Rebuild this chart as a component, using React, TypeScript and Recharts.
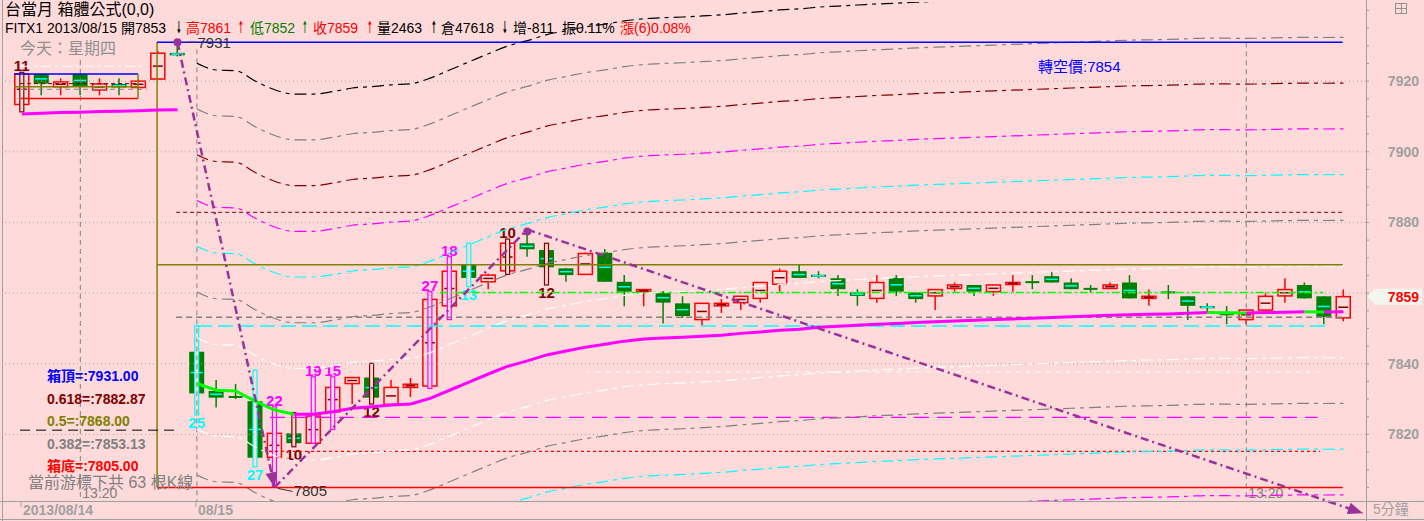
import React from 'react';
import { ComposedChart, Bar, Line, XAxis, YAxis, ReferenceLine, ReferenceDot } from 'recharts';

const BG = '#FFDADA';
const FONT = '"Liberation Sans", "Noto Sans CJK TC", sans-serif';
const RED = '#FF0000';
const DARK_RED = '#800000';
const GREEN = '#008000';
const LIME = '#00FF00';
const CYAN = '#00FFFF';
const MAGENTA = '#FF00FF';
const OLIVE = '#808000';
const GRAY = '#808080';
const AXIS_GRAY = '#A0A0A0';
const PURPLE = '#993399';

// candles, index 0 = first 5-minute bar of 08/15, negatives = previous session
const FIRST_INDEX = -9;
const OPENS = [
  7913.4, 7922, 7918.4, 7922, 7917.5, 7919.2, 7918.2, 7920.6, 7928,
  7843.4, 7832.3, 7830.6, 7829.4, 7813.5, 7820.3, 7817.5, 7826.4, 7834.4, 7836.1,
  7828.5, 7833.3, 7833.7, 7856.4, 7868.1, 7863.2, 7866.3, 7874.1, 7872.2, 7867,
  7865.3, 7871.4, 7863.2, 7860.4, 7860.1, 7857.1, 7852.5, 7856.4, 7857.3, 7858.5,
  7862.5, 7866.2, 7865.2, 7864.2, 7860.2, 7858.5, 7864.3, 7860.2, 7859.2, 7861.3,
  7862.3, 7860.4, 7862.5, 7863.1, 7864.8, 7863, 7861.2, 7861.3, 7863, 7858.5,
  7860.2, 7859.1, 7856.3, 7854, 7852.5, 7855.2, 7859.2, 7862.3, 7859.1, 7853,
];
const HIGHS = [
  7922.5, 7922, 7920.8, 7922, 7920.8, 7920.8, 7920.5, 7928.5, 7931,
  7850.7, 7835.4, 7834.3, 7838.2, 7827.8, 7826.2, 7836.3, 7836.3, 7836.1, 7840.1,
  7835.4, 7836, 7860.4, 7870.3, 7874.1, 7865.5, 7875.3, 7878, 7874.1, 7867,
  7871.5, 7872.5, 7865.1, 7861, 7860.6, 7859.1, 7857.1, 7858.3, 7859.1, 7863,
  7867, 7868, 7866.2, 7865.1, 7861.1, 7865.1, 7865.1, 7860.2, 7861, 7863,
  7862.3, 7862.3, 7865.1, 7865.1, 7865.9, 7864.2, 7862.3, 7863, 7865.1, 7861,
  7862.3, 7859.1, 7857.1, 7856.3, 7855.2, 7860.2, 7864.2, 7863, 7859.1, 7861,
];
const LOWS = [
  7911.3, 7916, 7916, 7916, 7916, 7916, 7918, 7920.4, 7927,
  7825.5, 7827.6, 7830, 7810.8, 7805, 7816.5, 7817.5, 7821.4, 7828.6, 7828.6,
  7828.5, 7830.6, 7833, 7852.5, 7861.8, 7861.1, 7865.3, 7870.3, 7862.3, 7863.2,
  7865.3, 7863.2, 7856.3, 7856.3, 7851.4, 7853, 7851, 7854.4, 7855.2, 7857.3,
  7860.4, 7864.3, 7864.2, 7859.2, 7856.4, 7857.3, 7859.2, 7857.3, 7855.2, 7860.4,
  7859.2, 7859.2, 7860.4, 7861.1, 7863, 7861.1, 7860.2, 7861.3, 7858.5, 7856.4,
  7858.3, 7852.4, 7854.5, 7851.2, 7851.2, 7855.2, 7857.3, 7858.5, 7851.2, 7852,
];
const CLOSES = [
  7922, 7919.3, 7919.8, 7918.4, 7919.2, 7918.2, 7920, 7927.9, 7927.3,
  7831.6, 7830.4, 7830.2, 7813.4, 7820.3, 7817.5, 7825.2, 7833.3, 7836.1, 7830.4,
  7833.3, 7834.2, 7858.2, 7866.2, 7864.3, 7865.1, 7874.1, 7872.4, 7867.3, 7865.1,
  7871.2, 7863.2, 7860.4, 7861, 7857.3, 7853.5, 7857.1, 7857.1, 7859.1, 7863,
  7866.2, 7864.3, 7864.6, 7861.1, 7859.2, 7863, 7860.4, 7858.3, 7861, 7862.3,
  7860.4, 7862.3, 7863, 7863, 7863, 7861.1, 7861, 7862.3, 7858.5, 7859.1,
  7860, 7856.4, 7855.7, 7853.8, 7855.2, 7859.1, 7861, 7858.5, 7853.3, 7859,
];

// average line: previous session (index -9..-1) and today (index 0..59)
const MA_PREV = [7910.7, 7910.9, 7911.1, 7911.2, 7911.4, 7911.5, 7911.6, 7911.8, 7911.9];
const MA_DAY = [
  7834.4, 7832.5, 7832.3, 7829.4, 7826.9, 7825.7, 7825.7, 7826.4, 7827.4, 7827.8,
  7828.3, 7828.6, 7830.2, 7832.5, 7834.8, 7837.1, 7839.3, 7840.8, 7842.5, 7843.6,
  7844.7, 7845.5, 7846.4, 7847.0, 7847.3, 7847.5, 7847.8, 7848.1, 7848.6, 7849.0,
  7849.5, 7849.8, 7850.3, 7850.6, 7850.9, 7851.2, 7851.4, 7851.7, 7851.9, 7852.1,
  7852.3, 7852.5, 7852.7, 7852.9, 7853.1, 7853.3, 7853.5, 7853.7, 7853.9, 7854.0,
  7854.1, 7854.3, 7854.5, 7854.45, 7854.4, 7854.5, 7854.6, 7854.7, 7854.65, 7854.7,
];
// envelope lines: average +- level * step
const BAND_STEP = 12.95;
const BAND_LEVELS = [7, 6, 5, 4, 3, 2, 1, -1, -2, -3, -4];
const BAND_COLORS: Record<string, string> = {
  '7': '#000000', '6': GRAY, '5': DARK_RED, '4': MAGENTA, '3': CYAN, '2': GRAY,
  '1': '#FFFFFF', '-1': '#FFFFFF', '-2': GRAY, '-3': CYAN, '-4': MAGENTA,
};

// counted bars: [index, label, kind]
const MARKS: [number, string, string][] = [
  [-9, '11', 'redUp'], [0, '25', 'cyanDown'], [3, '27', 'cyanDown'], [4, '22', 'magentaUp'],
  [5, '10', 'redDown'], [6, '19', 'magentaUp'], [7, '15', 'magentaUp'], [9, '12', 'redDown'],
  [12, '27', 'magentaUp'], [13, '18', 'magentaUp'], [14, '13', 'cyanDown'], [16, '10', 'redUp'],
  [18, '12', 'redDown'],
];

// box formula levels
const BOX_TOP = 7931;
const BOX_618 = 7882.87;
const BOX_HALF = 7868;
const BOX_382 = 7853.13;
const BOX_BOTTOM = 7805;
const PREV_BOX = [7922, 7919.3, 7918.4, 7917.7, 7915.1, 7924.2];
const STOP_LEVELS = [7850.7, 7860.2, 7824.8, 7815.2, 7837.7, 7821.2];
const TURN_PRICE = 7854;

// zigzag swing points
const ZIG_X = [-1, 4, 17, 60];
const ZIG_Y = [7931, 7805, 7878, 7797.7];

const GRID_LEVELS = [7820, 7840, 7860, 7880, 7900, 7920];
const DATE_TICKS = [-9, 0];
const DATE_LABELS = ['2013/08/14', '08/15'];
const TIME_LINES = [-6, 54];
const TIME_LABEL = '13:20';

const VOLUME = 2463;
const OPEN_INT = 47618;
const OI_CHANGE = -811;
const AMPLITUDE = '0.11%';
const CHANGE = '(6)0.08%';
const BAR_COUNT = 63;

const LAST = OPENS.length - 1;
const LAST_CLOSE = Math.round(CLOSES[LAST]);

const X_MIN = -10.03;
const X_MAX = 60.16;
const Y_MIN = 7801.15;
const Y_MAX = 7942.4;

const Y_TICKS: number[] = [];
for (let v = 7805; v <= 7940; v += 5) Y_TICKS.push(v);
Y_TICKS.push(LAST_CLOSE);

const MARK_MAP = new Map(MARKS.map((m) => [m[0], m]));

// split the day average into rising / falling runs
const MA_RUNS: { color: string; from: number; to: number }[] = [];
for (let j = 0; j < MA_DAY.length - 1; j++) {
  const color = MA_DAY[j + 1] < MA_DAY[j] ? LIME : MAGENTA;
  const last = MA_RUNS[MA_RUNS.length - 1];
  if (last && last.color === color) last.to = j + 1;
  else MA_RUNS.push({ color, from: j, to: j + 1 });
}

const ROWS = OPENS.map((o, k) => {
  const i = FIRST_INDEX + k;
  const row: any = { i, o, h: HIGHS[k], l: LOWS[k], c: CLOSES[k], range: [LOWS[k], HIGHS[k]] };
  if (i < 0) {
    row.maPrev = MA_PREV[k];
  } else {
    BAND_LEVELS.forEach((b) => {
      row['band' + b] = MA_DAY[i] + b * BAND_STEP;
    });
    MA_RUNS.forEach((r, n) => {
      if (i >= r.from && i <= r.to) row['ma' + n] = MA_DAY[i];
    });
  }
  return row;
});

function Candle(props: any) {
  const { x, y, width, height, payload } = props;
  if (payload == null || x == null || y == null) return null;
  const top = Math.min(y, y + height);
  const bot = Math.max(y, y + height);
  const { o, h, l, c, i } = payload;
  const span = h - l;
  const py = (v: number) => (span > 0 ? top + ((h - v) / span) * (bot - top) : top);
  const cx = x + width / 2;
  const bt = py(Math.max(o, c));
  const bb = Math.max(py(Math.min(o, c)), bt + 2);
  const mid = (bt + bb) / 2;
  const mark = MARK_MAP.get(i);
  const doji = Math.abs(c - o) < 0.5;
  let body: React.ReactNode;
  if (doji) {
    body = (
      <g>
        <line x1={cx} x2={cx} y1={top} y2={bot} stroke={GREEN} strokeWidth={1.5} />
        <line x1={cx - 7} x2={cx + 7} y1={py(o)} y2={py(o)} stroke={c >= o ? DARK_RED : GREEN} strokeWidth={2} />
      </g>
    );
  } else if (c > o) {
    body = (
      <g>
        <line x1={cx} x2={cx} y1={top} y2={bt} stroke={RED} strokeWidth={1.5} />
        <line x1={cx} x2={cx} y1={bb} y2={bot} stroke={RED} strokeWidth={1.5} />
        <rect x={cx - 7} y={bt} width={14} height={bb - bt} fill="none" stroke={RED} strokeWidth={1.5} />
        <line x1={cx - 5} x2={cx + 5} y1={mid} y2={mid} stroke={DARK_RED} strokeWidth={1.5} />
      </g>
    );
  } else {
    body = (
      <g>
        <line x1={cx} x2={cx} y1={top} y2={bot} stroke={GREEN} strokeWidth={1.5} />
        <rect x={cx - 7.5} y={bt} width={15} height={bb - bt} fill={GREEN} />
        <line x1={cx - 6} x2={cx + 6} y1={mid} y2={mid} stroke={CYAN} strokeWidth={1.5} />
      </g>
    );
  }
  let extra: React.ReactNode = null;
  if (mark) {
    const kind = mark[2];
    const color = kind.startsWith('cyan') ? CYAN : kind.startsWith('magenta') ? MAGENTA : DARK_RED;
    const upLabel = kind.endsWith('Up');
    extra = (
      <g>
        <rect x={cx - 2} y={top} width={4} height={bot - top} fill={BG} stroke={color} strokeWidth={1.2} />
        <text
          x={cx}
          y={upLabel ? top - 1 : bot + 13}
          textAnchor="middle"
          fontFamily={FONT}
          fontWeight="bold"
          fontSize={15}
          fill={color}
        >
          {mark[1]}
        </text>
      </g>
    );
  }
  return (
    <g>
      {body}
      {extra}
    </g>
  );
}

function arrowShape(withArrow: boolean) {
  return (p: any) => {
    const { x1, y1, x2, y2 } = p;
    if (x1 == null) return <g />;
    const dx = x2 - x1;
    const dy = y2 - y1;
    const len = Math.hypot(dx, dy) || 1;
    const ux = dx / len;
    const uy = dy / len;
    const bx = x2 - ux * 15;
    const by = y2 - uy * 15;
    return (
      <g>
        <line x1={x1} y1={y1} x2={x2} y2={y2} stroke={PURPLE} strokeWidth={2.5} strokeDasharray="8 4 2 4" />
        {withArrow && (
          <polygon
            points={`${x2},${y2} ${bx - uy * 6},${by + ux * 6} ${bx + uy * 6},${by - ux * 6}`}
            fill={PURPLE}
          />
        )}
      </g>
    );
  };
}

function timeLineShape(p: any) {
  const { x1, y1, x2, y2 } = p;
  if (x1 == null) return <g />;
  const yb = Math.max(y1, y2);
  return (
    <g>
      <line x1={x1} y1={y1} x2={x2} y2={y2} stroke={GRAY} strokeWidth={1} strokeDasharray="5 4" />
      <text x={x1 + 2} y={yb - 3} fontFamily={FONT} fontSize={14} fill={GRAY}>
        {TIME_LABEL}
      </text>
    </g>
  );
}

function YTick(props: any) {
  const { x, y, payload } = props;
  const v = payload.value;
  if (v === LAST_CLOSE) {
    return (
      <g>
        <polygon
          points={`${x + 1},${y} ${x + 9},${y - 8} ${x + 56},${y - 8} ${x + 56},${y + 8} ${x + 9},${y + 8}`}
          fill="#F2F6EE"
        />
        <text x={x + 53} y={y + 5} textAnchor="end" fontFamily={FONT} fontWeight="bold" fontSize={14} fill={RED}>
          {v}
        </text>
      </g>
    );
  }
  const labelled = v % 20 === 0 && v <= 7920 && Math.abs(v - LAST_CLOSE) > 3;
  return (
    <g>
      <line x1={x} x2={x + 3} y1={y} y2={y} stroke={AXIS_GRAY} />
      {labelled && (
        <text x={x + 53} y={y + 5} textAnchor="end" fontFamily={FONT} fontWeight="bold" fontSize={14} fill={AXIS_GRAY}>
          {v}
        </text>
      )}
    </g>
  );
}

function XTick(props: any) {
  const { x, y, payload } = props;
  const k = DATE_TICKS.indexOf(payload.value);
  return (
    <g>
      <line x1={x - 1} x2={x - 1} y1={y} y2={y + 6} stroke={AXIS_GRAY} />
      <text x={x + 1} y={y + 14} fontFamily={FONT} fontWeight="bold" fontSize={14} fill={AXIS_GRAY}>
        {DATE_LABELS[k]}
      </text>
    </g>
  );
}

function Txt({ x, cy, size, color, bold, children, family, squeeze }: any) {
  return (
    <div
      style={{
        position: 'absolute',
        left: x,
        top: cy - size / 2 - 1,
        fontSize: size,
        lineHeight: `${size}px`,
        color,
        fontWeight: bold ? 'bold' : 'normal',
        fontFamily: family || FONT,
        whiteSpace: 'nowrap',
        pointerEvents: 'none',
        transform: squeeze ? 'scale(0.45, 1.1)' : undefined,
        transformOrigin: 'left center',
      }}
    >
      {children}
    </div>
  );
}

const seg = (y: number, from: number, to: number) => [
  { x: from, y },
  { x: to, y },
];

export default function App() {
  const hl = (k: number) => Math.round(k);
  const quote: [number, string, string, boolean?][] = [
    [5, `FITX1 2013/08/15 開${hl(OPENS[LAST])}`, '#000'],
    [175, '↓', '#000', true],
    [186, `高${hl(HIGHS[LAST])}`, RED],
    [237, '↑', RED, true],
    [250, `低${hl(LOWS[LAST])}`, GREEN],
    [301, '↑', GREEN, true],
    [313, `收${hl(CLOSES[LAST])}`, RED],
    [366, '↑', RED, true],
    [377, `量${VOLUME}`, '#000'],
    [430, '↑', '#000', true],
    [441, `倉${OPEN_INT}`, '#000'],
    [501, '↓', '#000', true],
    [513, `增${OI_CHANGE}`, '#000'],
    [562, `振${AMPLITUDE}`, '#000'],
    [620, `漲${CHANGE}`, RED],
  ];
  return (
    <div style={{ position: 'relative', width: 1424, height: 521, background: BG, overflow: 'hidden' }}>
      <style>{'body{margin:0}'}</style>
      <ComposedChart width={1424} height={521} data={ROWS} margin={{ top: 2, right: 0, bottom: 0, left: 2 }}>
        <XAxis
          dataKey="i"
          type="number"
          domain={[X_MIN, X_MAX]}
          allowDataOverflow
          ticks={DATE_TICKS}
          interval={0}
          height={20}
          axisLine={false}
          tickLine={false}
          tickSize={0}
          tickMargin={0}
          tick={XTick}
        />
        <YAxis
          orientation="right"
          type="number"
          width={58}
          domain={[Y_MIN, Y_MAX]}
          allowDataOverflow
          ticks={Y_TICKS}
          interval={0}
          axisLine={false}
          tickLine={false}
          tickSize={0}
          tickMargin={0}
          tick={YTick}
        />

        {GRID_LEVELS.map((g) => (
          <ReferenceLine key={'g' + g} y={g} stroke={AXIS_GRAY} strokeDasharray="1 3" />
        ))}
        {TIME_LINES.map((t) => (
          <ReferenceLine
            key={'t' + t}
            segment={[
              { x: t, y: t < 0 ? 7926 : BOX_TOP },
              { x: t, y: Y_MIN },
            ]}
            shape={timeLineShape}
          />
        ))}
        <ReferenceLine segment={[{ x: 0, y: 7929 }, { x: 0, y: Y_MIN }]} stroke={GRAY} strokeDasharray="5 4" />
        <ReferenceLine segment={[{ x: -2.05, y: BOX_TOP }, { x: -2.05, y: BOX_BOTTOM }]} stroke={OLIVE} strokeWidth={1.5} />

        {/* previous session mini box */}
        <ReferenceLine segment={seg(PREV_BOX[5], -9.1, -2.57)} stroke="#FFFFFF" strokeDasharray="10 4 3 4" />
        <ReferenceLine segment={seg(PREV_BOX[1], -9.1, -3.03)} stroke={DARK_RED} strokeDasharray="4 3" />
        <ReferenceLine segment={seg(PREV_BOX[3], -9.1, -2.57)} stroke={GRAY} strokeDasharray="5 4" />
        <ReferenceLine segment={seg(STOP_LEVELS[5], -9.1, -1.1)} stroke="#000000" strokeDasharray="10 6" />

        {/* box formula levels */}
        <ReferenceLine segment={seg(BOX_618, -1.07, 58.96)} stroke={DARK_RED} strokeDasharray="4 3" />
        <ReferenceLine segment={seg(BOX_382, -1.07, 58.96)} stroke={GRAY} strokeDasharray="6 4" strokeWidth={1.5} />
        <ReferenceLine segment={seg(STOP_LEVELS[0], 0, 58.06)} stroke={CYAN} strokeDasharray="15 6" strokeWidth={1.5} />
        <ReferenceLine segment={seg(STOP_LEVELS[1], 12.5, 57.96)} stroke={LIME} strokeDasharray="8 3 2 3" strokeWidth={1.5} />
        <ReferenceLine segment={seg(STOP_LEVELS[2], 3.76, 57.67)} stroke={MAGENTA} strokeDasharray="15 8" strokeWidth={1.2} />
        <ReferenceLine segment={seg(STOP_LEVELS[3], 3.4, 57.8)} stroke={RED} strokeDasharray="3 3" strokeWidth={1.2} />
        <ReferenceLine segment={seg(STOP_LEVELS[4], 20, 57.8)} stroke="#FFFFFF" strokeDasharray="5 5" />

        {BAND_LEVELS.map((b) => (
          <Line
            key={'b' + b}
            dataKey={'band' + b}
            type="monotone"
            stroke={BAND_COLORS[String(b)]}
            strokeWidth={1.2}
            strokeDasharray="12 5 4 5"
            dot={false}
            activeDot={false}
            isAnimationActive={false}
          />
        ))}

        <Bar dataKey="range" barSize={15} shape={Candle} isAnimationActive={false} />

        <ReferenceLine segment={seg(BOX_TOP, -2.05, 58.96)} stroke="#0000FF" strokeWidth={1.5} />
        <ReferenceLine segment={seg(BOX_HALF, -2.05, 58.96)} stroke={OLIVE} strokeWidth={1.5} />
        <ReferenceLine segment={seg(BOX_BOTTOM, -2.05, 58.96)} stroke={RED} strokeWidth={1.5} />
        <ReferenceLine segment={seg(PREV_BOX[0], -9.41, -3.03)} stroke="#0000FF" strokeWidth={1.5} />
        <ReferenceLine segment={seg(PREV_BOX[2], -9.41, -3.03)} stroke={OLIVE} strokeWidth={1.5} />
        <ReferenceLine segment={seg(PREV_BOX[4], -9.06, -3.03)} stroke={RED} strokeWidth={1.5} />
        <ReferenceLine segment={[{ x: -3.03, y: PREV_BOX[0] }, { x: -3.03, y: PREV_BOX[4] }]} stroke={OLIVE} strokeWidth={1.5} />

        <Line dataKey="maPrev" type="linear" stroke={MAGENTA} strokeWidth={3} dot={false} activeDot={false} isAnimationActive={false} />
        {MA_RUNS.map((r, n) => (
          <Line
            key={'ma' + n}
            dataKey={'ma' + n}
            type="linear"
            stroke={r.color}
            strokeWidth={3}
            dot={false}
            activeDot={false}
            isAnimationActive={false}
          />
        ))}

        {ZIG_X.slice(0, -1).map((x0, k) => (
          <ReferenceLine
            key={'z' + k}
            segment={[
              { x: x0, y: ZIG_Y[k] },
              { x: ZIG_X[k + 1], y: ZIG_Y[k + 1] },
            ]}
            ifOverflow="visible"
            shape={arrowShape(k !== 1)}
          />
        ))}
        <ReferenceDot
          x={ZIG_X[0]}
          y={ZIG_Y[0]}
          r={4}
          shape={(p: any) => (
            <g>
              <circle cx={p.cx} cy={p.cy} r={4} fill={PURPLE} />
              <line x1={p.cx + 12} x2={p.cx + 19} y1={p.cy} y2={p.cy} stroke="#333" />
              <text x={p.cx + 20} y={p.cy + 6} fontFamily={FONT} fontSize={15} fill="#333">
                {ZIG_Y[0]}
              </text>
            </g>
          )}
        />
        <ReferenceDot
          x={ZIG_X[1]}
          y={ZIG_Y[1]}
          r={3}
          shape={(p: any) => (
            <g>
              <line x1={p.cx + 3} x2={p.cx + 18} y1={p.cy + 1} y2={p.cy + 4} stroke="#333" />
              <text x={p.cx + 19} y={p.cy + 9} fontFamily={FONT} fontSize={15} fill="#333">
                {ZIG_Y[1]}
              </text>
            </g>
          )}
        />
        <ReferenceDot
          x={ZIG_X[2]}
          y={ZIG_Y[2]}
          r={4}
          shape={(p: any) => <circle cx={p.cx} cy={p.cy + 2} r={4} fill={PURPLE} />}
        />
      </ComposedChart>

      {/* frame */}
      <div style={{ position: 'absolute', left: 1366, top: 0, width: 1, height: 521, background: AXIS_GRAY }} />
      <div style={{ position: 'absolute', left: 0, top: 501, width: 1424, height: 1, background: AXIS_GRAY }} />
      <div style={{ position: 'absolute', left: 0, top: 519, width: 1424, height: 1, background: AXIS_GRAY }} />
      <div style={{ position: 'absolute', left: 2, top: 0, width: 1, height: 521, background: AXIS_GRAY }} />
      <div style={{ position: 'absolute', left: 1395, top: 3, width: 10, height: 9, border: '1px solid #909090' }}>
        <div style={{ position: 'absolute', left: 5, top: 0, width: 1, height: 9, background: '#909090' }} />
        <div style={{ position: 'absolute', left: 0, top: 4, width: 10, height: 1, background: '#909090' }} />
      </div>

      {/* header */}
      <Txt x={5} cy={11} size={16} color="#000">台當月 箱體公式(0,0)</Txt>
      {quote.map(([x, s, color, arrow], k) => (
        <Txt
          key={k}
          x={x + (arrow ? 1 : 0)}
          cy={29}
          size={arrow ? 15 : 14}
          color={color}
          bold={arrow}
          squeeze={arrow}
          family={arrow ? '"DejaVu Sans", sans-serif' : FONT}
        >
          {s}
        </Txt>
      ))}
      <Txt x={20} cy={50} size={16} color="#909090">今天：星期四</Txt>
      <Txt x={1038} cy={67} size={15} color="#0000FF">{`轉空價:${TURN_PRICE}`}</Txt>

      {/* box legend */}
      <Txt x={47} cy={377} size={14} bold color="#0000FF">{`箱頂=:${BOX_TOP.toFixed(2)}`}</Txt>
      <Txt x={47} cy={400} size={14} bold color={DARK_RED}>{`0.618=:${BOX_618.toFixed(2)}`}</Txt>
      <Txt x={47} cy={422} size={14} bold color={OLIVE}>{`0.5=:${BOX_HALF.toFixed(2)}`}</Txt>
      <Txt x={47} cy={445} size={14} bold color={GRAY}>{`0.382=:${BOX_382.toFixed(2)}`}</Txt>
      <Txt x={47} cy={467} size={14} bold color={RED}>{`箱底=:${BOX_BOTTOM.toFixed(2)}`}</Txt>
      <Txt x={28} cy={484} size={16} color={GRAY}>{`當前游標下共 ${BAR_COUNT} 根K線`}</Txt>
      <Txt x={1373} cy={510} size={14} color={AXIS_GRAY}>5分鐘</Txt>
    </div>
  );
}
